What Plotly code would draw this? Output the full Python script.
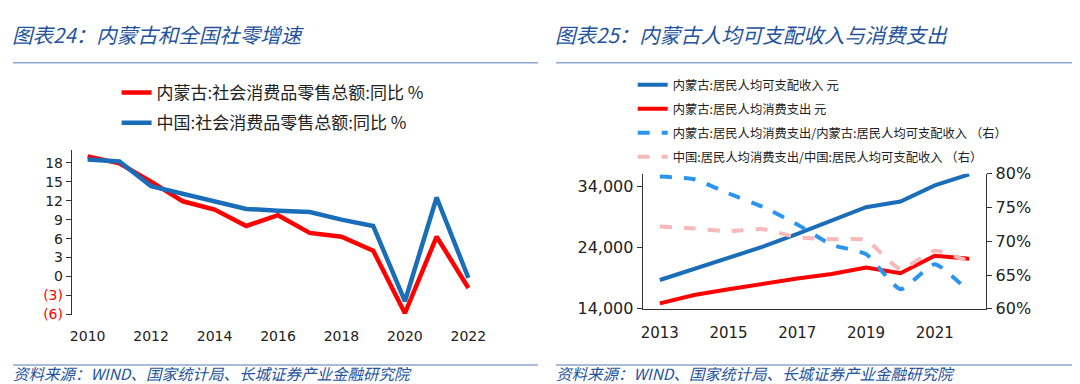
import plotly.graph_objects as go

# ---------------- data ----------------
years_l = list(range(2010, 2023))
nmg_retail = [19.0, 17.9, 15.0, 11.9, 10.6, 8.0, 9.7, 6.9, 6.3, 4.1, -5.8, 6.3, -1.8]
cn_retail = [18.5, 18.2, 14.3, 13.1, 12.0, 10.7, 10.4, 10.2, 9.0, 8.0, -3.9, 12.5, -0.2]
left_yticks = [-6, -3, 0, 3, 6, 9, 12, 15, 18]
left_xlabels = [2010, 2012, 2014, 2016, 2018, 2020, 2022]

years_r = list(range(2013, 2023))
nmg_income = [18693, 20559, 22310, 24127, 26212, 28376, 30555, 31497, 34108, 35921]
nmg_consume = [14878, 16258, 17179, 18072, 18946, 19665, 20743, 19794, 22658, 22160]
nmg_ratio = [79.6, 79.2, 77.1, 75.1, 72.5, 69.5, 68.1, 62.9, 66.6, 62.5]
cn_ratio = [72.2, 71.9, 71.5, 71.8, 70.6, 70.3, 70.2, 65.9, 68.6, 67.0]
right_xlabels = [2013, 2015, 2017, 2019, 2021]
right_yticks = [14000, 24000, 34000]
right_y2ticks = [60, 65, 70, 75, 80]

title_l = "图表24：内蒙古和全国社零增速"
title_r = "图表25：内蒙古人均可支配收入与消费支出"
source = "资料来源：WIND、国家统计局、长城证券产业金融研究院"

# ---------------- styling ----------------
W, H = 1080, 384
RED = "#FF0000"
BLUE = "#1A6DB8"
LBLUE = "#2A95EE"
PINK = "#F7B9B9"
TITLE_C = "#24539E"
AX = "#333333"
NUM_FONT = "DejaVu Sans"
CJK = "Noto Sans CJK SC"

def px_x(x):
    return x / W

def px_y(y):
    return 1 - y / H

fig = go.Figure()

# left chart traces
fig.add_trace(go.Scatter(x=years_l, y=nmg_retail, mode="lines", name="内蒙古:社会消费品零售总额:同比 %",
                         line=dict(color=RED, width=4.5), xaxis="x", yaxis="y",
                         legend="legend", legendgroup="a"))
fig.add_trace(go.Scatter(x=years_l, y=cn_retail, mode="lines", name="中国:社会消费品零售总额:同比 %",
                         line=dict(color=BLUE, width=4.5), xaxis="x", yaxis="y",
                         legend="legend", legendgroup="b"))

# right chart traces
fig.add_trace(go.Scatter(x=years_r, y=nmg_income, mode="lines", name="内蒙古:居民人均可支配收入 元",
                         line=dict(color=BLUE, width=4), xaxis="x2", yaxis="y2",
                         legend="legend2", legendgroup="c"))
fig.add_trace(go.Scatter(x=years_r, y=nmg_consume, mode="lines", name="内蒙古:居民人均消费支出 元",
                         line=dict(color=RED, width=4), xaxis="x2", yaxis="y2",
                         legend="legend2", legendgroup="d"))
fig.add_trace(go.Scatter(x=years_r, y=nmg_ratio, mode="lines",
                         name="内蒙古:居民人均消费支出/内蒙古:居民人均可支配收入 （右）",
                         line=dict(color=LBLUE, width=4, dash="dash", shape="spline", smoothing=0.5),
                         xaxis="x2", yaxis="y3", legend="legend2", legendgroup="e"))
fig.add_trace(go.Scatter(x=years_r, y=cn_ratio, mode="lines",
                         name="中国:居民人均消费支出/中国:居民人均可支配收入 （右）",
                         line=dict(color=PINK, width=4, dash="dash", shape="spline", smoothing=0.5),
                         xaxis="x2", yaxis="y3", legend="legend2", legendgroup="f"))

# domains
xl = [px_x(62), px_x(476)]
yl = [px_y(313), px_y(140)]
xr = [px_x(635), px_x(980)]
yr = [px_y(307), px_y(165)]
yl_min, yl_max = -6, 20
zero_pos = yl[0] + (0 - yl_min) / (yl_max - yl_min) * (yl[1] - yl[0])

left_ticktext = [f'<span style="color:{RED}">({abs(v)})</span>' if v < 0 else str(v) for v in left_yticks]
right_y2text = [f"{v}%" for v in right_y2ticks]

fig.update_layout(
    width=W, height=H,
    margin=dict(l=0, r=0, t=0, b=0),
    paper_bgcolor="white", plot_bgcolor="white",
    font=dict(family=NUM_FONT, color="#222222"),
    xaxis=dict(domain=xl, anchor="y", range=[2009.5, 2022.5], tickvals=left_xlabels,
               ticks="", showline=False, showgrid=False, zeroline=False,
               tickfont=dict(size=14, family=NUM_FONT), ticklabelstandoff=11),
    xaxis3=dict(overlaying="x", anchor="free", position=zero_pos, range=[2009.5, 2022.5],
                tickvals=[2011.5, 2013.5, 2015.5, 2017.5, 2019.5, 2021.5],
                ticks="outside", ticklen=5, tickcolor=AX, showticklabels=False,
                showline=True, linecolor=AX, linewidth=1, showgrid=False, zeroline=False),
    yaxis=dict(domain=yl, anchor="x", range=[yl_min, yl_max], tickvals=left_yticks,
               ticktext=left_ticktext, ticks="outside", ticklen=5, tickcolor=AX,
               showline=True, linecolor=AX, linewidth=1, showgrid=False, zeroline=False,
               tickfont=dict(size=14, family=NUM_FONT)),
    xaxis2=dict(domain=xr, anchor="y2", range=[2012.5, 2022.5], tickvals=right_xlabels,
                ticks="", showline=True, linecolor=AX, linewidth=1, showgrid=False,
                zeroline=False, tickfont=dict(size=15, family=NUM_FONT), ticklabelstandoff=10),
    xaxis4=dict(overlaying="x2", anchor="y2", range=[2012.5, 2022.5],
                tickvals=[2012.5, 2014.5, 2016.5, 2018.5, 2020.5, 2022.5],
                ticks="outside", ticklen=6, tickcolor=AX, showticklabels=False,
                showline=False, showgrid=False, zeroline=False),
    yaxis2=dict(domain=yr, anchor="x2", range=[14000, 36000], tickvals=right_yticks,
                tickformat=",", ticks="outside", ticklen=5, tickcolor=AX,
                showline=True, linecolor=AX, linewidth=1, showgrid=False, zeroline=False,
                tickfont=dict(size=16, family=NUM_FONT)),
    yaxis3=dict(overlaying="y2", anchor="x2", side="right", range=[60, 80],
                tickvals=right_y2ticks, ticktext=right_y2text, ticks="outside", ticklen=5,
                tickcolor=AX, showline=True, linecolor=AX, linewidth=1, showgrid=False,
                zeroline=False, tickfont=dict(size=16, family=NUM_FONT)),
    legend=dict(x=px_x(107), y=px_y(61), xanchor="left", yanchor="top",
                font=dict(family=CJK, size=17, color="#222222"),
                bgcolor="rgba(0,0,0,0)", tracegroupgap=5, itemclick=False),
    legend2=dict(x=px_x(625), y=px_y(56), xanchor="left", yanchor="top",
                 font=dict(family=CJK, size=12.3, color="#222222"),
                 bgcolor="rgba(0,0,0,0)", tracegroupgap=5, itemclick=False),
    showlegend=True,
)

# titles, rules, sources (text x shifted to compensate for the annotation box offset)
for x0, x1, tx, txt in [(3, 530, 0, title_l), (548, 1076, 545, title_r)]:
    fig.add_annotation(text=txt, x=px_x(tx), y=px_y(18), xref="paper", yref="paper",
                       xanchor="left", yanchor="middle", showarrow=False, align="left",
                       font=dict(family=CJK, size=20.5, color=TITLE_C, style="italic"))
    fig.add_shape(type="line", xref="paper", yref="paper", x0=px_x(x0), x1=px_x(x1),
                  y0=px_y(48), y1=px_y(48), line=dict(color="#8CA6D2", width=1.5))
    fig.add_shape(type="line", xref="paper", yref="paper", x0=px_x(x0), x1=px_x(x1),
                  y0=px_y(366), y1=px_y(366), line=dict(color="#8CA6D2", width=1.5))
    fig.add_annotation(text=source, x=px_x(tx + 1), y=px_y(375), xref="paper", yref="paper",
                       xanchor="left", yanchor="middle", showarrow=False, align="left",
                       font=dict(family=CJK, size=15.5, color=TITLE_C, style="italic"))

fig.write_html("out.html")
